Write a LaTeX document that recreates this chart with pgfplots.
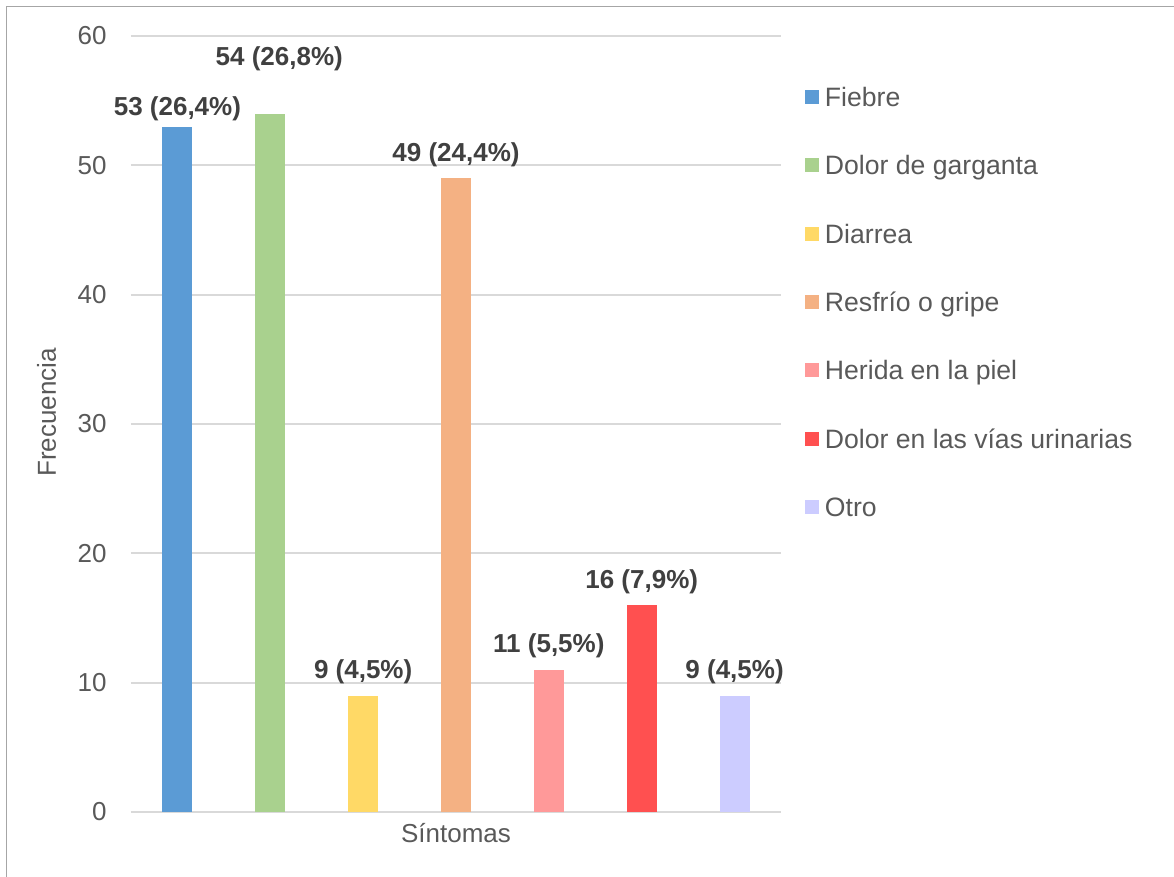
\documentclass[border=0pt]{standalone}
\usepackage{pgfplots}
\pgfplotsset{compat=1.18}
\usepackage{fontspec}
\setmainfont{Liberation Sans}
\definecolor{c1}{HTML}{5B9BD5}
\definecolor{c2}{HTML}{A9D18E}
\definecolor{c3}{HTML}{FFD966}
\definecolor{c4}{HTML}{F4B183}
\definecolor{c5}{HTML}{FF9999}
\definecolor{c6}{HTML}{FF5050}
\definecolor{c7}{HTML}{CCCCFF}
\definecolor{txtgray}{HTML}{595959}
\definecolor{lblgray}{HTML}{404040}
\definecolor{gridgray}{HTML}{D9D9D9}
\definecolor{framegray}{HTML}{A6A6A6}
\pgfplotsset{
  mybar/.style={fill=#1, draw=none,
    legend image code/.code={\fill[##1] (0pt,-3.5pt) rectangle (7pt,3.5pt);}},
}
\begin{document}
\begin{tikzpicture}
\path[use as bounding box] (0,0) rectangle (587pt,438.5pt);
\draw[color=framegray, line width=0.6pt] (3.3pt,0) -- (3.3pt,435.2pt) -- (587pt,435.2pt);
\begin{axis}[
  at={(65.5pt,32.5pt)}, anchor=south west,
  scale only axis, width=325pt, height=388pt,
  ybar, bar width=15pt, bar shift=0pt,
  xmin=-0.5, xmax=6.5, ymin=0, ymax=60,
  ytick={0,10,...,60}, xtick=\empty,
  ymajorgrids, grid style={draw=gridgray, line width=0.9pt},
  axis line style={draw=none},
  major tick length=0pt,
  /pgf/number format/assume math mode=true,
  tick label style={font=\fontsize{13}{15}\selectfont, text=txtgray},
  yticklabel style={anchor=east, inner sep=0pt, xshift=-12pt},
  xlabel={Síntomas}, ylabel={Frecuencia},
  label style={font=\fontsize{13}{15}\selectfont, text=txtgray},
  xlabel style={at={(axis description cs:0.5,0)}, anchor=base, yshift=-15.2pt},
  ylabel style={at={(axis description cs:-0.11538,0.515)}, anchor=base},
  clip=false,
  legend cell align=left,
  legend style={at={(axis description cs:1,1)}, anchor=north west,
    xshift=12pt, yshift=-25.8pt, draw=none, fill=none,
    inner sep=0pt, outer sep=0pt,
    font=\fontsize{13.3}{15}\selectfont, text=txtgray,
    row sep=24.77pt,
    nodes={inner sep=0pt, text height=9.4pt, text depth=0pt},
    /tikz/every odd column/.append style={column sep=3pt}},
  every node near coord/.style={font=\bfseries\fontsize{13}{15}\selectfont,
    text=lblgray, anchor=base, inner sep=0pt, yshift=8.5pt},
]
\addplot[mybar=c1, nodes near coords={53 (26,4\%)},
  every node near coord/.append style={yshift=-3pt}] coordinates {(0,53)};
\addlegendentry{Fiebre}
\addplot[mybar=c2, nodes near coords={54 (26,8\%)},
  every node near coord/.append style={yshift=15.5pt, xshift=4.5pt}] coordinates {(1,54)};
\addlegendentry{Dolor de garganta}
\addplot[mybar=c3, nodes near coords={9 (4,5\%)}] coordinates {(2,9)};
\addlegendentry{Diarrea}
\addplot[mybar=c4, nodes near coords={49 (24,4\%)}] coordinates {(3,49)};
\addlegendentry{Resfrío o gripe}
\addplot[mybar=c5, nodes near coords={11 (5,5\%)}] coordinates {(4,11)};
\addlegendentry{Herida en la piel}
\addplot[mybar=c6, nodes near coords={16 (7,9\%)}] coordinates {(5,16)};
\addlegendentry{Dolor en las vías urinarias}
\addplot[mybar=c7, nodes near coords={9 (4,5\%)}] coordinates {(6,9)};
\addlegendentry{Otro}
\end{axis}
\end{tikzpicture}
\end{document}
